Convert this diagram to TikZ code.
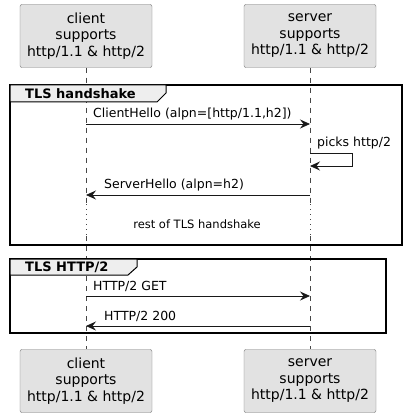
\documentclass[tikz,border=0pt]{standalone}
\usepackage{fontspec}
\setmainfont{DejaVu Sans}
\usetikzlibrary{arrows.meta}
\definecolor{boxfill}{HTML}{E2E2E2}
\definecolor{tabfill}{HTML}{EEEEEE}
\definecolor{linecol}{HTML}{181818}

\begin{document}
\begin{tikzpicture}[x=1pt, y=-1pt]
    \tikzset{participant/.style={draw=linecol!60, fill=boxfill, rounded corners=2pt, minimum width=132pt, minimum height=63pt, inner sep=0pt, align=center, font=\fontsize{14}{16.5}\selectfont}}
    \tikzset{msg/.style={draw=linecol, line width=0.8pt, -{Stealth[length=10pt, width=9pt, inset=3.5pt]}}}
    \tikzset{lifeline/.style={draw=linecol!80, line width=0.5pt, dash pattern=on 5pt off 5pt}}
    \tikzset{delayline/.style={draw=linecol!80, line width=0.6pt, dash pattern=on 1pt off 4pt}}
    \tikzset{label/.style={anchor=south west, inner sep=0pt, font=\fontsize{12.5}{14}\selectfont}}
    \tikzset{frame/.style={draw=black, line width=1.6pt}}
    \tikzset{tab/.style={draw=black, line width=1pt, fill=tabfill}}
    \tikzset{tabtext/.style={anchor=west, inner sep=0pt, font=\fontsize{13}{15}\bfseries\selectfont}}

    \useasboundingbox (0,0) rectangle (407,417);

    % participants
    \node[participant] (ctop) at (86,36) {client\\supports\\http/1.1 \& http/2};
    \node[participant] (stop) at (310,36) {server\\supports\\http/1.1 \& http/2};
    \node[participant] (cbot) at (86,381) {client\\supports\\http/1.1 \& http/2};
    \node[participant] (sbot) at (310,381) {server\\supports\\http/1.1 \& http/2};

    % lifelines
    \coordinate (cd1) at (86,204);
    \coordinate (cd2) at (86,236);
    \coordinate (sd1) at (310,204);
    \coordinate (sd2) at (310,236);
    \draw[lifeline] (ctop.south) -- (cd1);
    \draw[delayline] (cd1) -- (cd2);
    \draw[lifeline] (cd2) -- (cbot.north);
    \draw[lifeline] (stop.south) -- (sd1);
    \draw[delayline] (sd1) -- (sd2);
    \draw[lifeline] (sd2) -- (sbot.north);

    % TLS handshake
    \draw[frame] (10,85) rectangle (402,245);
    \draw[tab] (10,85) -- (166,85) -- (166,93) -- (157,102) -- (10,102) -- cycle;
    \node[tabtext] (t1) at (25,93.5) {TLS handshake};

    \coordinate (c1) at (86,124);
    \coordinate (s1) at (310,124);
    \draw[msg] (c1) -- (s1);
    \node[label] (m1) at (93,120) {ClientHello (alpn=[http/1.1,h2])};

    \coordinate (s2) at (310,153);
    \coordinate (s3) at (352,153);
    \coordinate (s4) at (352,166);
    \coordinate (s5) at (310,166);
    \draw[msg] (s2) -- (s3) -- (s4) -- (s5);
    \node[label] (m2) at (317,149) {picks http/2};

    \coordinate (s6) at (310,195);
    \coordinate (c6) at (86,195);
    \draw[msg] (s6) -- (c6);
    \node[label] (m3) at (104,191) {ServerHello (alpn=h2)};

    \node[font=\fontsize{11.5}{13}\selectfont, inner sep=0pt] (d1) at (197,224) {rest of TLS handshake};

    % TLS HTTP/2
    \draw[frame] (10,259) rectangle (386,333);
    \draw[tab] (10,259) -- (137,259) -- (137,267) -- (128,275) -- (10,275) -- cycle;
    \node[tabtext] (t2) at (25,267) {TLS HTTP/2};

    \coordinate (c7) at (86,296);
    \coordinate (s7) at (310,296);
    \draw[msg] (c7) -- (s7);
    \node[label] (m4) at (93,292) {HTTP/2 GET};

    \coordinate (s8) at (310,326);
    \coordinate (c8) at (86,326);
    \draw[msg] (s8) -- (c8);
    \node[label] (m5) at (104,322) {HTTP/2 200};
\end{tikzpicture}
\end{document}
